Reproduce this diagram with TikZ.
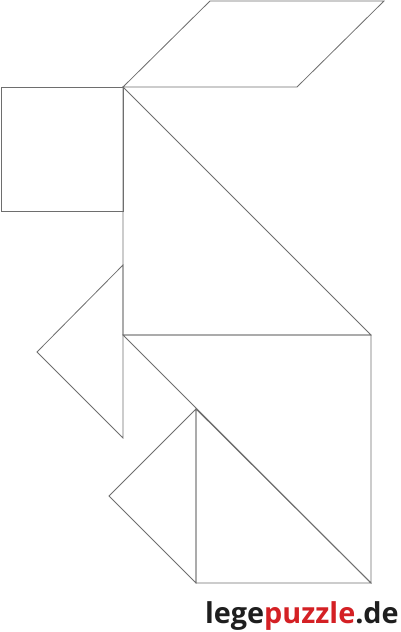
\documentclass[tikz,border=0pt]{standalone}
\usepackage{fontspec}
\setsansfont{Open Sans}
\definecolor{logored}{RGB}{212,32,36}
\begin{document}
\begin{tikzpicture}[x=0.75pt,y=0.75pt,yscale=-1,xscale=1]
\useasboundingbox (0,0) rectangle (400,632);
%Shape: Parallelogram [id:top]
\draw [color={rgb, 255:red, 110; green, 110; blue, 110 }  ,draw opacity=1 ,line width=0.6pt ]   (123,87) -- (210,1) -- (384,1) -- (297,87) -- cycle ;
%Shape: Square [id:head]
\draw [color={rgb, 255:red, 110; green, 110; blue, 110 }  ,draw opacity=1 ,line width=0.6pt ]   (1,87) -- (123,87) -- (123,211) -- (1,211) -- cycle ;
%Shape: Triangle [id:bigupper]
\draw [color={rgb, 255:red, 110; green, 110; blue, 110 }  ,draw opacity=1 ,line width=0.6pt ]   (123,87) -- (371,335) -- (123,335) -- cycle ;
%Shape: Triangle [id:smallleft]
\draw [color={rgb, 255:red, 110; green, 110; blue, 110 }  ,draw opacity=1 ,line width=0.6pt ]   (123,265) -- (37,352) -- (123,438) -- cycle ;
%Shape: Triangle [id:biglower]
\draw [color={rgb, 255:red, 110; green, 110; blue, 110 }  ,draw opacity=1 ,line width=0.6pt ]   (123,335) -- (371,335) -- (371,583) -- cycle ;
%Shape: Triangle [id:medium]
\draw [color={rgb, 255:red, 110; green, 110; blue, 110 }  ,draw opacity=1 ,line width=0.6pt ]   (196,409) -- (196,583) -- (371,583) -- cycle ;
%Shape: Triangle [id:smalllower]
\draw [color={rgb, 255:red, 110; green, 110; blue, 110 }  ,draw opacity=1 ,line width=0.6pt ]   (196,409) -- (109,496) -- (196,583) -- cycle ;
% Text Node
\node (logo) [anchor=base east, inner sep=0pt, font=\sffamily\bfseries\fontsize{21.6}{26}\selectfont, color={rgb, 255:red, 30; green, 30; blue, 30 }] at (399,623) {lege\textcolor{logored}{puzzle}.de};
\end{tikzpicture}
\end{document}
